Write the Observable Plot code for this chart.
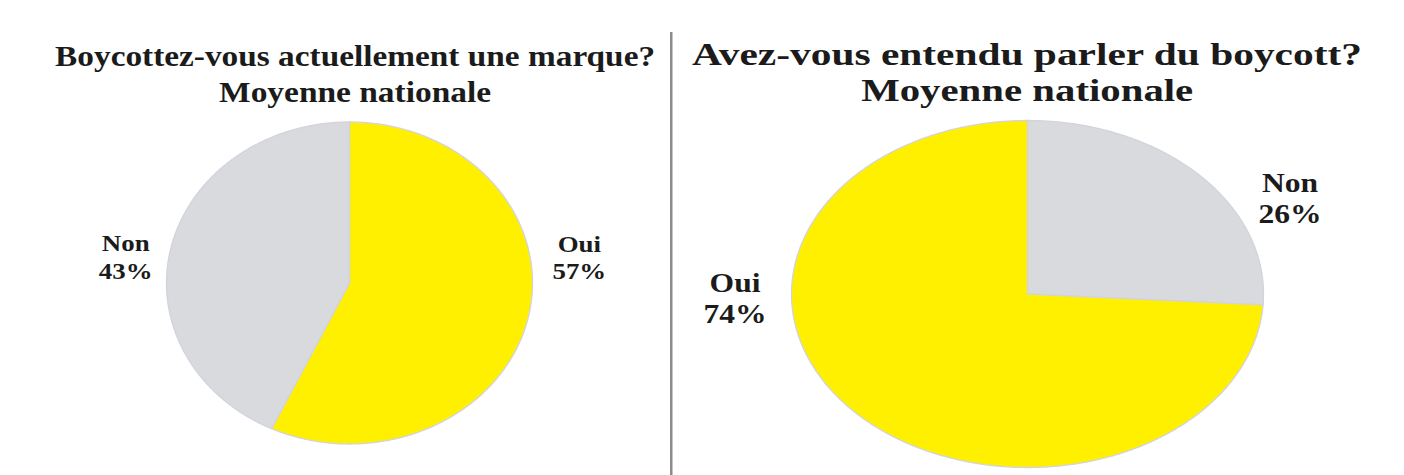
<!DOCTYPE html>
<html>
<head>
<meta charset="utf-8">
<script src="https://cdn.jsdelivr.net/npm/d3@7"></script>
<script src="https://cdn.jsdelivr.net/npm/@observablehq/plot@0.6"></script>
<style>
  html, body { margin: 0; padding: 0; background: #fff; }
  #wrap { position: relative; width: 1404px; height: 475px; overflow: hidden; background: #fff; }
  .title { position: absolute; text-align: center; font-family: "Liberation Serif", "Times New Roman", serif; font-weight: bold; color: #1b1b1b; white-space: nowrap; }
  .title span { display: inline-block; transform-origin: center center; }
  .chart { position: absolute; top: 0; }
  #divider { position: absolute; left: 670px; top: 32px; width: 2px; height: 443px; background: #8c8c8c; border-right: 1px solid #c4c4c4; }
</style>
</head>
<body>
<div id="wrap"></div>
<script>
// ---- data ----
const leftTitle = ["Boycottez-vous actuellement une marque?", "Moyenne nationale"];
const leftCategories = ["Oui", "Non"];
const leftValues = [57, 43];

const rightTitle = ["Avez-vous entendu parler du boycott?", "Moyenne nationale"];
const rightCategories = ["Non", "Oui"];
const rightValues = [26, 74];

// ---- style / layout ----
const YELLOW = "#fff000";
const GRAY = "#d9dadd";
const FONT = "'Liberation Serif', 'Times New Roman', serif";

const layouts = {
  left:  { left: 0,   width: 670, cx: 349, cy: 282.5, rx: 183, ry: 161, labelSize: 24, labelStretch: 1.12, k: 1.27,
           nudge: { Oui: [3, -71], Non: [3, 18] },
           title: { center: 355, top: 37.5, size: 30, lh: 36, widths: [600, 272] } },
  right: { left: 670, width: 734, cx: 357, cy: 293.5, rx: 236, ry: 173.5, labelSize: 27, labelStretch: 1.17, k: 1.27,
           nudge: { Non: [44, 54], Oui: [-74, -147] },
           title: { center: 1027, top: 37, size: 32, lh: 35.5, widths: [670, 332] } }
};

const wrap = document.getElementById("wrap");

function pieChart(categories, values, L) {
  const arcs = d3.pie().sort(null)(values);
  const pts = [];
  const labels = [];
  arcs.forEach((a, i) => {
    const cat = categories[i];
    pts.push({ cat, x: 0, y: 0 });
    const n = Math.max(2, Math.ceil((a.endAngle - a.startAngle) / (Math.PI / 360)));
    for (let j = 0; j <= n; j++) {
      const t = a.startAngle + (a.endAngle - a.startAngle) * j / n;
      pts.push({ cat, x: Math.sin(t), y: Math.cos(t) });
    }
    pts.push({ cat, x: 0, y: 0 });
    const mid = (a.startAngle + a.endAngle) / 2;
    const [dxp, dyp] = L.nudge[cat] || [0, 0];
    labels.push({
      text: cat + "\n" + values[i] + "%",
      x: L.k * Math.sin(mid) + dxp / L.rx,
      y: L.k * Math.cos(mid) - dyp / L.ry
    });
  });
  const svg = Plot.plot({
    width: L.width,
    height: 475,
    margin: 0,
    style: { background: "transparent", fontFamily: FONT, overflow: "visible" },
    x: { domain: [-1, 1], range: [L.cx - L.rx, L.cx + L.rx], axis: null },
    y: { domain: [-1, 1], range: [L.cy + L.ry, L.cy - L.ry], axis: null },
    color: { domain: ["Oui", "Non"], range: [YELLOW, GRAY] },
    marks: [
      Plot.line(pts, { x: "x", y: "y", z: "cat", fill: "cat", stroke: "#d3d3de", strokeWidth: 1.3, curve: "linear", strokeLinejoin: "round" }),
      Plot.text(labels, { x: "x", y: "y", text: "text", fontSize: L.labelSize, fontWeight: "bold", fontFamily: FONT, lineHeight: 1.15, fill: "#1b1b1b", lineAnchor: "middle", textAnchor: "middle", className: "pielabel" })
    ]
  });
  // widen the label glyphs slightly, as in the source image
  svg.querySelectorAll(".pielabel text").forEach(t => {
    const tr = t.getAttribute("transform") || "";
    t.setAttribute("transform", tr + ` scale(${L.labelStretch},1)`);
  });
  return svg;
}

function addTitle(lines, T) {
  const div = document.createElement("div");
  div.className = "title";
  div.style.left = (T.center - 450) + "px";
  div.style.width = "900px";
  div.style.top = T.top + "px";
  div.style.fontSize = T.size + "px";
  div.style.lineHeight = T.lh + "px";
  lines.forEach((line, i) => {
    const s = document.createElement("span");
    s.textContent = line;
    div.appendChild(s);
    if (i < lines.length - 1) div.appendChild(document.createElement("br"));
  });
  wrap.appendChild(div);
  div.querySelectorAll("span").forEach((s, i) => {
    const w = s.getBoundingClientRect().width;
    if (w > 0) s.style.transform = `scaleX(${T.widths[i] / w})`;
  });
}

[[leftCategories, leftValues, layouts.left], [rightCategories, rightValues, layouts.right]].forEach(([c, v, L]) => {
  const holder = document.createElement("div");
  holder.className = "chart";
  holder.style.left = L.left + "px";
  holder.appendChild(pieChart(c, v, L));
  wrap.appendChild(holder);
});

const div = document.createElement("div");
div.id = "divider";
wrap.appendChild(div);

addTitle(leftTitle, layouts.left.title);
addTitle(rightTitle, layouts.right.title);
</script>
</body>
</html>
